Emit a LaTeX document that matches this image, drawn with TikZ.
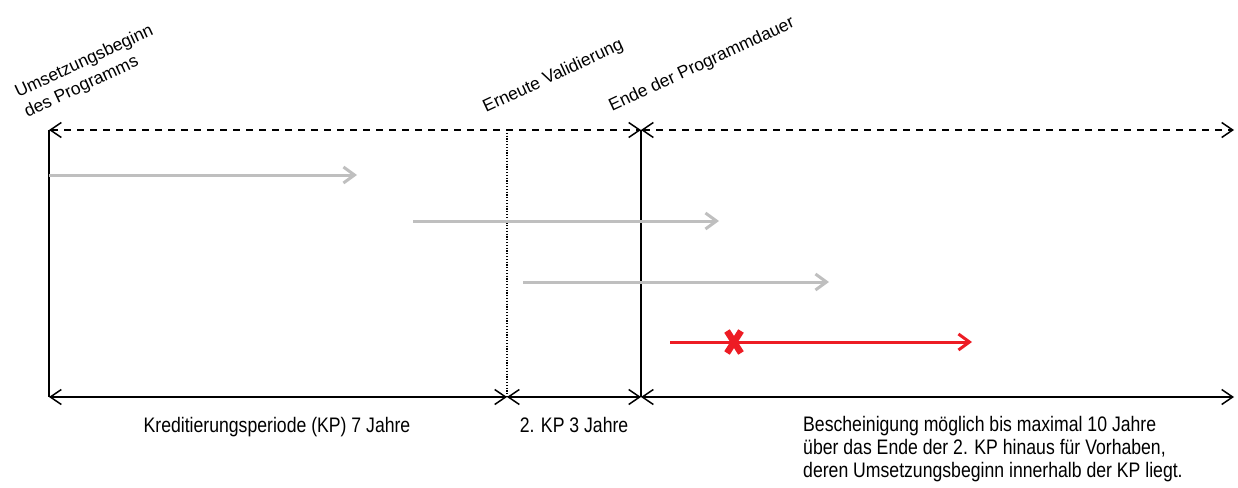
\documentclass[tikz,border=0pt]{standalone}
\usepackage{fontspec}
\setmainfont{Liberation Sans}
\newfontfamily\narrowfont{Liberation Sans}[FakeStretch=0.84]
\usetikzlibrary{arrows.meta}
\definecolor{arrowgray}{RGB}{191,191,191}
\definecolor{xred}{RGB}{237,28,36}
\begin{document}
\begin{tikzpicture}[x=1pt,y=-1pt,
  axis/.style={line width=1.5pt,black},
  dimline/.style={axis,{Straight Barb[length=11pt,width=15pt]}-{Straight Barb[length=11pt,width=15pt]}},
  dashline/.style={dimline,dash pattern=on 7pt off 6pt},
  dotline/.style={line width=1.2pt,dash pattern=on 1.2pt off 1.6pt},
  grayarrow/.style={line width=3pt,arrowgray,-{Straight Barb[length=11pt,width=16pt]}},
  redarrow/.style={line width=3pt,xred,-{Straight Barb[length=11pt,width=16pt]}},
  cross/.style={line width=6.5pt,xred},
  toplabel/.style={inner sep=0pt,rotate=25,font=\fontsize{17.5}{21.5}\selectfont},
  botlabel/.style={inner sep=0pt,font=\narrowfont\fontsize{21}{23}\selectfont}
]
\useasboundingbox (0,0) rectangle (1238,487);
% key coordinates
\coordinate (A) at (49,130);
\coordinate (Ab) at (49,397);
\coordinate (V) at (507,130);
\coordinate (Vb) at (507,397);
\coordinate (E) at (641,130);
\coordinate (Eb) at (641,397);
\coordinate (R) at (1234,130);
\coordinate (Rb) at (1234,397);
% verticals
\draw[axis] (A) -- (Ab);
\draw[dotline] (V) -- (Vb);
\draw[axis] (E) -- (Eb);
% top dashed
\draw[dashline] (A) -- (E);
\draw[dashline] (E) -- (R);
% bottom
\draw[dimline] (Ab) -- (Vb);
\draw[dimline] (Vb) -- (Eb);
\draw[dimline] (Eb) -- (Rb);
% gray arrows
\coordinate (g1s) at (49,175);  \coordinate (g1e) at (357,175);
\coordinate (g2s) at (413,221); \coordinate (g2e) at (719,221);
\coordinate (g3s) at (523,282); \coordinate (g3e) at (829,282);
\draw[grayarrow] (g1s) -- (g1e);
\draw[grayarrow] (g2s) -- (g2e);
\draw[grayarrow] (g3s) -- (g3e);
% red arrow with cross
\coordinate (rs) at (670,342); \coordinate (re) at (972,342);
\draw[redarrow] (rs) -- (re);
\coordinate (X) at (734,342);
\draw[cross] ([shift={(-7,-11)}]X) -- ([shift={(7,11)}]X);
\draw[cross] ([shift={(7,-11)}]X) -- ([shift={(-7,11)}]X);
% top labels
\node[toplabel,anchor=south west,align=left] (lA) at (29,121) {Umsetzungsbeginn\\des Programms};
\node[toplabel,anchor=base west] (lV) at (486,113) {Erneute Validierung};
\node[toplabel,anchor=base west] (lE) at (612,112) {Ende der Programmdauer};
% bottom labels
\node[botlabel,anchor=base] (b1) at (277,432) {Kreditierungsperiode (KP) 7 Jahre};
\node[botlabel,anchor=base] (b2) at (574,432) {2. KP 3 Jahre};
\node[botlabel,anchor=north west,align=left] (b3) at (803,416) {Bescheinigung möglich bis maximal 10 Jahre\\über das Ende der 2. KP hinaus für Vorhaben,\\deren Umsetzungsbeginn innerhalb der KP liegt.};
\end{tikzpicture}
\end{document}
